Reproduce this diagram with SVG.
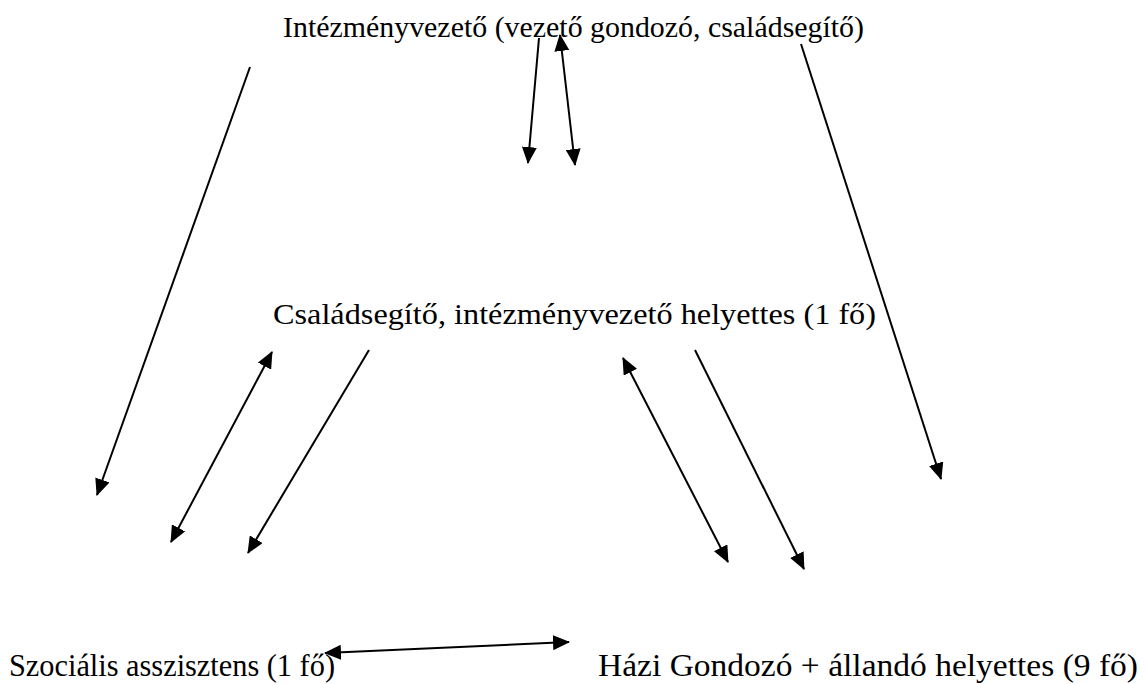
<svg xmlns="http://www.w3.org/2000/svg" width="1145" height="684" viewBox="0 0 1145 684">
<style>
text{font-family:'Liberation Serif','Times New Roman',serif;fill:#000}
.t{font-size:30px}
.b{font-size:31px}
.c{stroke:#000;stroke-width:2;fill:none}
</style>
<defs>
<marker id="ah" markerUnits="userSpaceOnUse" viewBox="0 0 17 15" refX="16" refY="7.5" markerWidth="17" markerHeight="15" orient="auto-start-reverse">
<path d="M0,0 L17,7.5 L0,15 Z" fill="#000"/>
</marker>
</defs>
<rect width="1145" height="684" fill="#fff"/>
<g id="node-vezeto"><text class="t" x="283" y="37" textLength="581" lengthAdjust="spacingAndGlyphs">Intézményvezető (vezető gondozó, családsegítő)</text></g>
<g id="node-helyettes"><text class="t" x="273" y="324" textLength="603" lengthAdjust="spacingAndGlyphs">Családsegítő, intézményvezető helyettes (1 fő)</text></g>
<g id="node-szocialis"><text class="b" x="9" y="676" textLength="326" lengthAdjust="spacingAndGlyphs">Szociális asszisztens (1 fő)</text></g>
<g id="node-hazi"><text class="b" x="598" y="676" textLength="540" lengthAdjust="spacingAndGlyphs">Házi Gondozó + állandó helyettes (9 fő)</text></g>
<g id="connectors">
<line class="c" x1="250" y1="67" x2="97" y2="495" marker-end="url(#ah)"/>
<line class="c" x1="539" y1="38" x2="528" y2="163" marker-end="url(#ah)"/>
<line class="c" x1="560" y1="35" x2="575" y2="165" marker-start="url(#ah)" marker-end="url(#ah)"/>
<line class="c" x1="801" y1="44" x2="941" y2="479" marker-end="url(#ah)"/>
<line class="c" x1="272" y1="352" x2="171" y2="542" marker-start="url(#ah)" marker-end="url(#ah)"/>
<line class="c" x1="369" y1="350" x2="248" y2="553" marker-end="url(#ah)"/>
<line class="c" x1="623" y1="358" x2="728" y2="562" marker-start="url(#ah)" marker-end="url(#ah)"/>
<line class="c" x1="695" y1="350" x2="804" y2="569" marker-end="url(#ah)"/>
<line class="c" x1="325" y1="653" x2="569" y2="642" marker-start="url(#ah)" marker-end="url(#ah)"/>
</g>
</svg>
